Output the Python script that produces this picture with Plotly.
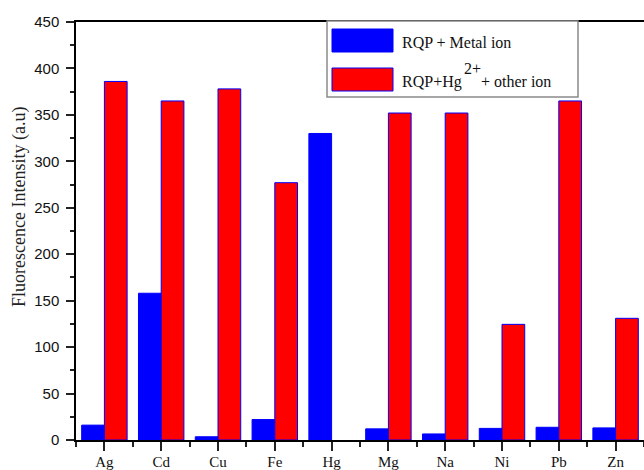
import plotly.graph_objects as go

# Metal ions tested and fluorescence readings (a.u.)
ions = ["Ag", "Cd", "Cu", "Fe", "Hg", "Mg", "Na", "Ni", "Pb", "Zn"]
metal_only = [16, 158, 3.5, 22, 330, 12, 6.5, 12.5, 13.7, 13]
hg_plus_other = [386, 365, 378, 277, None, 352, 352, 124.5, 365, 131]
y_ticks = [0, 50, 100, 150, 200, 250, 300, 350, 400, 450]

W, H = 644, 470
PL, PR, PT, PB = 76, 644, 22, 440

def px(x):
    return (x - PL) / (PR - PL)

def py(y):
    return (PB - y) / (PB - PT)

xpos = list(range(len(ions)))
BLUE, RED = "#0000FF", "#FF0000"

fig = go.Figure()
fig.add_trace(go.Bar(x=xpos, y=metal_only, name="RQP + Metal ion",
                     marker=dict(color=BLUE, line=dict(color=BLUE, width=1))))
fig.add_trace(go.Bar(x=xpos, y=hg_plus_other, name="RQP+Hg2+ + other ion",
                     marker=dict(color=RED, line=dict(color=BLUE, width=1))))

serif = "Liberation Serif"
sans = "Liberation Sans"

fig.update_layout(
    width=W, height=H,
    margin=dict(l=PL, r=W - PR, t=PT, b=H - PB),
    paper_bgcolor="white", plot_bgcolor="white",
    barmode="group", bargap=0.2, bargroupgap=0,
    showlegend=False,
)
fig.update_xaxes(
    range=[-0.5, 9.5], tickvals=xpos, ticktext=ions,
    showgrid=False, zeroline=False,
    showline=True, linecolor="black", linewidth=1.5, mirror=True,
    ticks="outside", ticklen=9, tickwidth=1.5, tickcolor="#222",
    ticklabelstandoff=-2,
    tickfont=dict(family=serif, size=15, color="#111"),
    minor=dict(tick0=0.5, dtick=1, ticks="outside", ticklen=5,
               tickwidth=1.5, tickcolor="#222", showgrid=False),
)
fig.update_yaxes(
    range=[0, 450], tickvals=y_ticks,
    showgrid=False, zeroline=False,
    showline=True, linecolor="black", linewidth=1.5,
    ticks="outside", ticklen=8, tickwidth=1.5, tickcolor="#222",
    ticklabelstandoff=4,
    tickfont=dict(family=sans, size=15, color="#111"),
    minor=dict(dtick=25, ticks="outside", ticklen=4, tickwidth=1.5,
               tickcolor="#222", showgrid=False),
)

# axis title
fig.add_annotation(text="Fluorescence Intensity (a.u)", xref="paper", yref="paper",
                   x=px(19), y=py(207), textangle=-90, showarrow=False,
                   xanchor="center", yanchor="middle",
                   font=dict(family=serif, size=18, color="#222"))

# legend box with wide swatches
fig.add_shape(type="rect", xref="paper", yref="paper",
              x0=px(327), x1=px(578), y0=py(97), y1=py(21),
              fillcolor="white", line=dict(color="#8a8a8a", width=1.5), layer="above")
fig.add_shape(type="rect", xref="paper", yref="paper",
              x0=px(332), x1=px(393), y0=py(52), y1=py(29),
              fillcolor=BLUE, line=dict(color=BLUE, width=1), layer="above")
fig.add_shape(type="rect", xref="paper", yref="paper",
              x0=px(332), x1=px(393), y0=py(91), y1=py(68),
              fillcolor=RED, line=dict(color=BLUE, width=1), layer="above")

lfont = dict(family=serif, size=16, color="#111")
for txt, x, y in [("RQP + Metal ion", 400, 43),
                  ("RQP+Hg", 400, 82),
                  ("2+", 462, 68),
                  ("+ other ion", 479, 82)]:
    fig.add_annotation(text=txt, xref="paper", yref="paper", x=px(x), y=py(y),
                       xanchor="left", yanchor="middle", showarrow=False,
                       font=lfont)

fig.write_html("out.html")
